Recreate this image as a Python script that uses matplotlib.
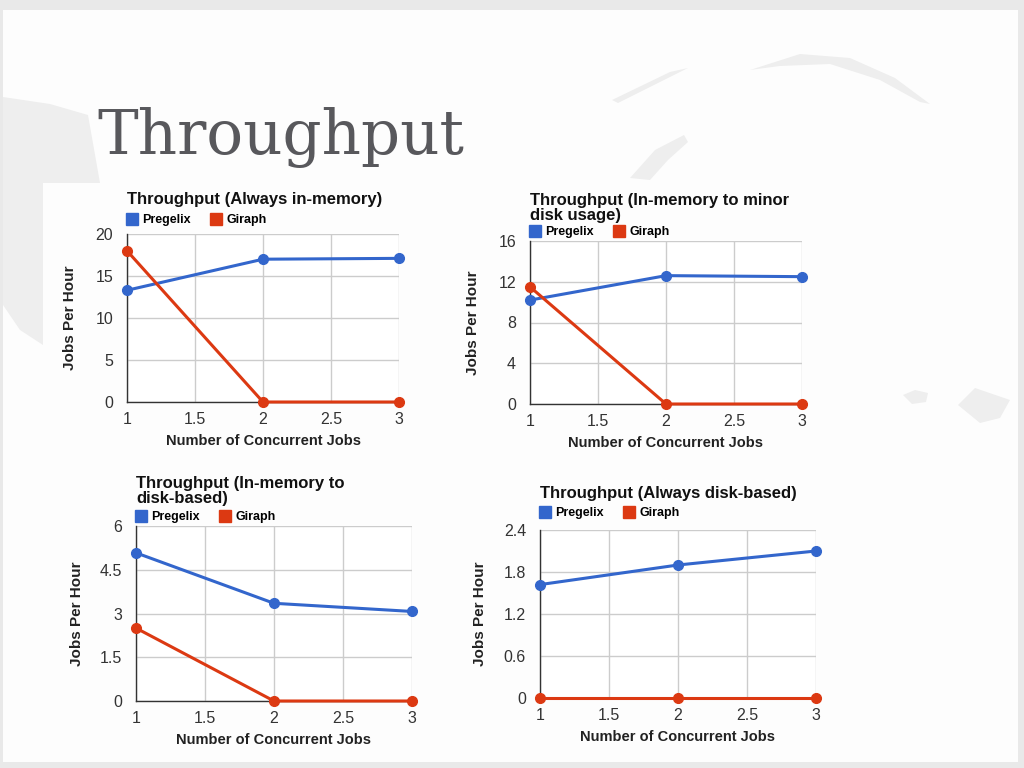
import matplotlib.pyplot as plt
from matplotlib.lines import Line2D
from matplotlib.patches import Polygon, Rectangle

# data
jobs = [1, 2, 3]
titles = ["Throughput (Always in-memory)",
          "Throughput (In-memory to minor\ndisk usage)",
          "Throughput (In-memory to\ndisk-based)",
          "Throughput (Always disk-based)"]
pregelix = [[13.3, 17.0, 17.1],
            [10.2, 12.6, 12.5],
            [5.08, 3.35, 3.07],
            [1.62, 1.90, 2.10]]
giraph = [[18.0, 0, 0],
          [11.5, 0, 0],
          [2.5, 0, 0],
          [0, 0, 0]]
y_ticks = [[0, 5, 10, 15, 20],
           [0, 4, 8, 12, 16],
           [0, 1.5, 3, 4.5, 6],
           [0, 0.6, 1.2, 1.8, 2.4]]
y_ticklabels = [["0", "5", "10", "15", "20"],
                ["0", "4", "8", "12", "16"],
                ["0", "1.5", "3", "4.5", "6"],
                ["0", "0.6", "1.2", "1.8", "2.4"]]
x_ticks = [1, 1.5, 2, 2.5, 3]
x_ticklabels = ["1", "1.5", "2", "2.5", "3"]

BLUE = '#3366cc'
RED = '#dc3912'
W, H = 1024, 768

plt.rcParams['font.family'] = ['Liberation Sans', 'DejaVu Sans']

fig = plt.figure(figsize=(10.24, 7.68), dpi=100)
fig.patch.set_facecolor('#e9e9e9')


def fx(px):
    return px / W


def fy(py):
    return 1 - py / H


# slide background with a few faint brush strokes
bg = fig.add_axes([0, 0, 1, 1], zorder=-10)
bg.set_xlim(0, W)
bg.set_ylim(H, 0)
bg.axis('off')
bg.add_patch(Rectangle((3, 10), 1015, 752, facecolor='#fdfdfd', edgecolor='none'))
strokes = [
    [(3, 97), (50, 104), (88, 115), (100, 183), (43, 183), (43, 345), (20, 330), (3, 305)],
    [(612, 100), (670, 72), (688, 68), (640, 92), (618, 103)],
    [(630, 178), (655, 150), (684, 135), (688, 142), (668, 160), (650, 180)],
    [(750, 70), (800, 54), (850, 58), (895, 78), (930, 104), (920, 102), (880, 80), (830, 64), (780, 66)],
    [(903, 395), (915, 390), (928, 393), (926, 402), (912, 404)],
    [(958, 405), (975, 388), (1010, 400), (1000, 418), (980, 423)],
]
for pts in strokes:
    bg.add_patch(Polygon(pts, closed=True, facecolor='#eeeeee', edgecolor='none'))

fig.text(fx(97), fy(154), "Throughput", family=['DejaVu Serif'],
         fontsize=44, color='#58585c', ha='left', va='baseline')

# plot-area boxes in pixels: left, right, top(max), bottom(0)
boxes = [(127, 399, 234, 402),
         (530, 802, 241, 404),
         (136, 412, 526, 701),
         (540, 816, 530, 698)]
title_y = [198, 199, 482, 492]
legend_y = [220, 232, 517, 513]
ylabel_x = [70, 473, 77, 480]

for i in range(4):
    l, r, t, b = boxes[i]
    ax = fig.add_axes([fx(l), fy(b), (r - l) / W, (b - t) / H])
    ax.set_facecolor('white')
    ax.plot(jobs, pregelix[i], color=BLUE, lw=2.2, marker='o', ms=7, clip_on=False, zorder=4)
    ax.plot(jobs, giraph[i], color=RED, lw=2.2, marker='o', ms=7, clip_on=False, zorder=5)
    ax.set_xlim(1, 3)
    ax.set_ylim(y_ticks[i][0], y_ticks[i][-1])
    ax.set_xticks(x_ticks)
    ax.set_xticklabels(x_ticklabels)
    ax.set_yticks(y_ticks[i])
    ax.set_yticklabels(y_ticklabels[i])
    ax.grid(True, color='#cccccc', lw=1)
    ax.set_axisbelow(True)
    ax.tick_params(length=0, labelsize=11.5, labelcolor='#333333')
    ax.tick_params(axis='y', pad=10)
    ax.tick_params(axis='x', pad=7)
    for s in ['top', 'right']:
        ax.spines[s].set_visible(False)
    for s in ['left', 'bottom']:
        ax.spines[s].set_color('#333333')
        ax.spines[s].set_linewidth(1)
    ax.set_xlabel("Number of Concurrent Jobs", fontsize=10.5, fontweight='bold',
                  color='#222222', labelpad=5)
    fig.text(fx(ylabel_x[i]), fy((t + b) / 2), "Jobs Per Hour", rotation=90,
             fontsize=11, fontweight='bold', color='#222222', ha='center', va='center')
    fig.text(fx(l), fy(title_y[i] - 6), titles[i], fontsize=12, fontweight='bold',
             color='#111111', ha='left', va='top', linespacing=1.0)
    handles = [Line2D([], [], color=BLUE, marker='s', ls='none', ms=8),
               Line2D([], [], color=RED, marker='s', ls='none', ms=8)]
    ax.legend(handles, ["Pregelix", "Giraph"], ncol=2, frameon=False,
              loc='center left', bbox_to_anchor=(fx(l - 13), fy(legend_y[i])),
              bbox_transform=fig.transFigure, handlelength=1,
              handletextpad=0.35, columnspacing=1.5,
              prop={'weight': 'bold', 'size': 9})

fig.savefig('out.png', dpi=100, facecolor=fig.get_facecolor())
